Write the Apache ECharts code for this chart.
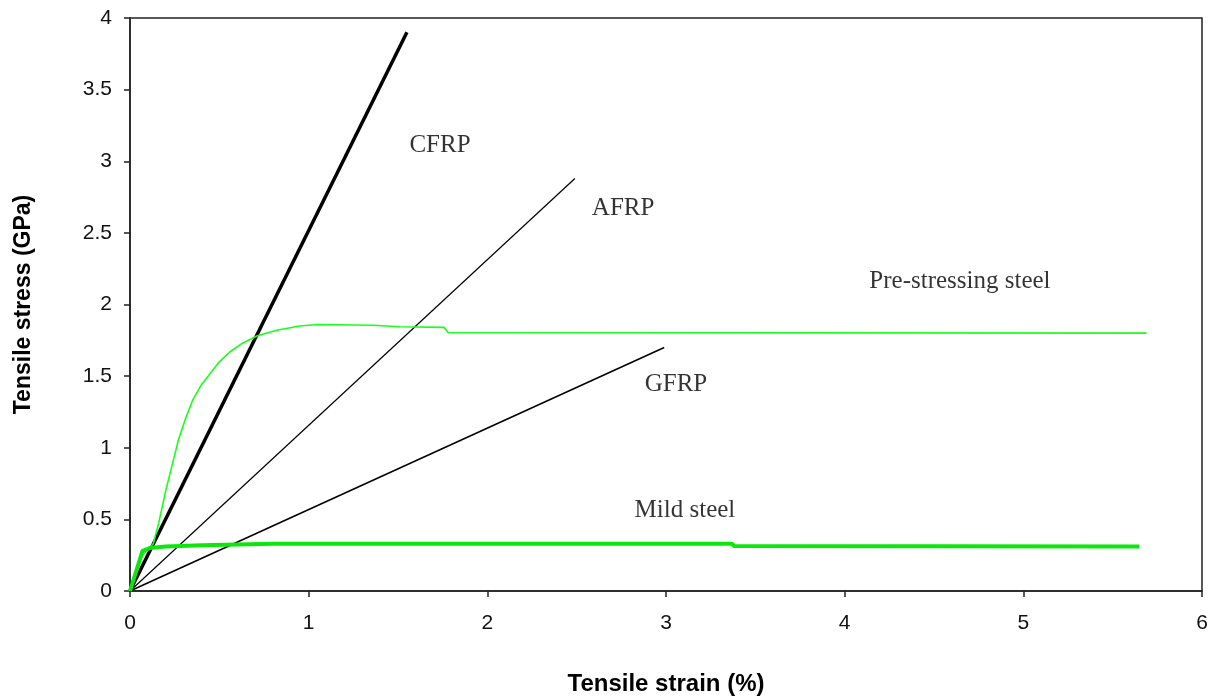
<!doctype html>
<html>
    <head>
        <meta charset="utf-8">
        <title>Tensile stress vs strain</title>
        <style>
            html, body { margin: 0; padding: 0; background: #fff; }
            #main { width: 1214px; height: 698px; }
        </style>
    </head>
    <body>
        <div id="main"></div>
        <script src="https://cdn.jsdelivr.net/npm/echarts@6/dist/echarts.min.js"></script>
        <script>
            // strain (%) , stress (GPa)
            var cfrp = [[0, 0], [1.55, 3.9]];
            var afrp = [[0, 0], [2.49, 2.88]];
            var gfrp = [[0, 0], [2.99, 1.7]];
            var prestressing = [
                [0, 0], [0.07, 0.25], [0.13, 0.33], [0.16, 0.47], [0.2, 0.7],
                [0.24, 0.9], [0.27, 1.05], [0.31, 1.2], [0.35, 1.33], [0.4, 1.44],
                [0.45, 1.52], [0.5, 1.6], [0.56, 1.67], [0.63, 1.73], [0.71, 1.78],
                [0.82, 1.82], [0.95, 1.85], [1.05, 1.86], [1.36, 1.855],
                [1.51, 1.845], [1.76, 1.84], [1.78, 1.805], [5.69, 1.80]
            ];
            var mildSteel = [
                [0, 0], [0.07, 0.28], [0.11, 0.3], [0.2, 0.31], [0.4, 0.32],
                [0.8, 0.33], [3.37, 0.33], [3.38, 0.315], [5.65, 0.31]
            ];
            var labelNames = ['CFRP', 'AFRP', 'Pre-stressing steel', 'GFRP', 'Mild steel'];
            var labelAt = [[1.735, 3.11], [2.76, 2.67], [4.645, 2.16], [3.056, 1.445], [3.106, 0.565]];

            var chart = echarts.init(document.getElementById('main'), null, { devicePixelRatio: 1 });

            var textSerif = 'Liberation Serif, Times New Roman, serif';
            var textSans = 'Liberation Sans, Arial, sans-serif';

            chart.setOption({
                animation: false,
                grid: {
                    left: 130, right: 12, top: 18, bottom: 107,
                    outerBoundsMode: 'none',
                    show: true, borderColor: '#222', borderWidth: 1.5
                },
                xAxis: {
                    type: 'value', min: 0, max: 6, interval: 1,
                    name: 'Tensile strain (%)', nameLocation: 'middle', nameGap: 81,
                    nameTextStyle: { fontFamily: textSans, fontWeight: 'bold', fontSize: 24, color: '#000' },
                    axisLine: { lineStyle: { color: '#222', width: 1.5 } },
                    axisTick: { show: true, inside: false, length: 6, lineStyle: { color: '#222', width: 1.5 } },
                    axisLabel: { fontFamily: textSans, fontSize: 21, color: '#111', margin: 22 },
                    splitLine: { show: false }
                },
                yAxis: {
                    type: 'value', min: 0, max: 4, interval: 0.5,
                    name: 'Tensile stress (GPa)', nameLocation: 'middle', nameGap: 95,
                    nameTextStyle: { fontFamily: textSans, fontWeight: 'bold', fontSize: 23, color: '#000' },
                    axisLine: { show: true, lineStyle: { color: '#222', width: 1.5 } },
                    axisTick: { show: true, inside: false, length: 6, lineStyle: { color: '#222', width: 1.5 } },
                    axisLabel: { fontFamily: textSans, fontSize: 21, color: '#111', margin: 18 },
                    splitLine: { show: false }
                },
                series: [
                    { type: 'line', data: cfrp, showSymbol: false, lineStyle: { color: '#000', width: 3.5 } },
                    { type: 'line', data: afrp, showSymbol: false, lineStyle: { color: '#000', width: 1.2 } },
                    { type: 'line', data: gfrp, showSymbol: false, lineStyle: { color: '#000', width: 1.5 } },
                    { type: 'line', data: prestressing, showSymbol: false, lineStyle: { color: '#1aff1a', width: 1.6 } },
                    { type: 'line', data: mildSteel, showSymbol: false, lineStyle: { color: '#0de60d', width: 4 } },
                    {
                        type: 'scatter', symbolSize: 0, silent: true,
                        data: labelAt.map(function (p, i) { return { value: p, name: labelNames[i] }; }),
                        label: {
                            show: true, position: 'inside', formatter: '{b}',
                            fontFamily: textSerif, fontSize: 25, color: '#000'
                        }
                    }
                ]
            });

            window.onresize = chart.resize;
        </script>
    </body>
</html>
